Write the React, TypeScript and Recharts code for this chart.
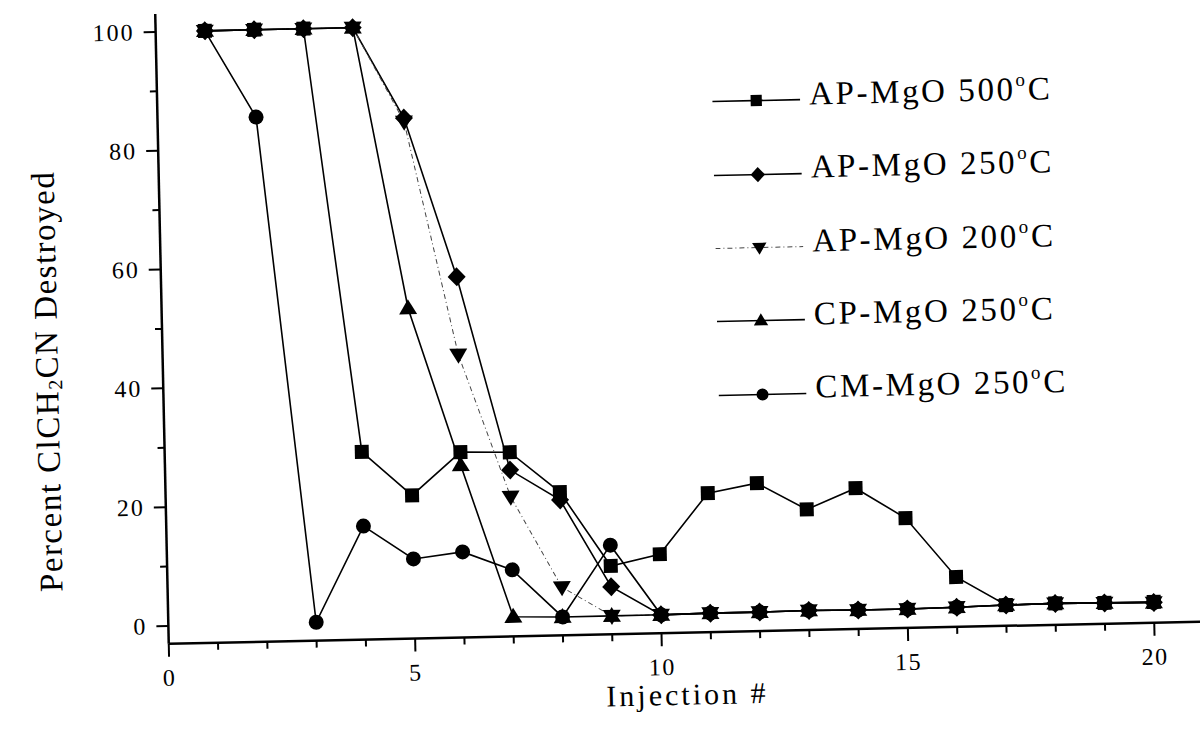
import React from "react";
import { LineChart, Line, XAxis, YAxis, Legend } from "recharts";

const injections = [1, 2, 3, 4, 5, 6, 7, 8, 9, 10, 11, 12, 13, 14, 15, 16, 17, 18, 19, 20];
const ap500 = [100, 100, 100, 28.6, 21.1, 28.2, 28.0, 21.1, 8.5, 10.3, 20.4, 21.9, 17.3, 20.7, 15.5, 5.4, 0.5, 0.6, 0.5, 0.5];
const ap250 = [100, 100, 100, 100, 84.6, 57.7, 25.0, 19.8, 5.0, 0.1, 0.2, 0.2, 0.3, 0.2, 0.2, 0.3, 0.5, 0.6, 0.5, 0.4];
const ap200 = [100, 100, 100, 100, 84.0, 44.6, 20.5, 5.1, 0.1, 0.1, 0.2, 0.2, 0.3, 0.2, 0.2, 0.3, 0.5, 0.6, 0.5, 0.4];
const cp250 = [100, 100, 100, 100, 52.6, 26.0, 0.3, 0.1, 0.1, 0.1, 0.2, 0.2, 0.3, 0.2, 0.2, 0.3, 0.5, 0.6, 0.5, 0.4];
const cm250 = [100, 85.3, 0.1, 16.1, 10.4, 11.4, 8.2, 0.1, 12.0, 0.1, 0.2, 0.2, 0.3, 0.2, 0.2, 0.3, 0.5, 0.6, 0.5, 0.4];

const xTicks = [0, 1, 2, 3, 4, 5, 6, 7, 8, 9, 10, 11, 12, 13, 14, 15, 16, 17, 18, 19, 20];
const yTicks = [0, 10, 20, 30, 40, 50, 60, 70, 80, 90, 100];

const series = [
  { key: "ap500", name: "AP-MgO 500", shape: "square", dash: undefined, color: "#000", width: 1.6 },
  { key: "ap250", name: "AP-MgO 250", shape: "diamond", dash: undefined, color: "#000", width: 1.6 },
  { key: "ap200", name: "AP-MgO 200", shape: "down", dash: "5 3 1 3", color: "#444", width: 1 },
  { key: "cp250", name: "CP-MgO 250", shape: "up", dash: undefined, color: "#000", width: 1.6 },
  { key: "cm250", name: "CM-MgO 250", shape: "circle", dash: undefined, color: "#000", width: 1.6 },
];

const rows = injections.map((x, i) => ({
  x,
  ap500: ap500[i],
  ap250: ap250[i],
  ap200: ap200[i],
  cp250: cp250[i],
  cm250: cm250[i],
}));

const FONT = "'Liberation Serif', 'Times New Roman', serif";

function Marker({ shape, cx, cy, s = 1 }: { shape: string; cx: number; cy: number; s?: number }) {
  if (shape === "square") return <rect x={cx - 7 * s} y={cy - 7 * s} width={14 * s} height={14 * s} fill="#000" />;
  if (shape === "diamond")
    return (
      <path
        d={`M${cx},${cy - 9.5 * s}L${cx + 9 * s},${cy}L${cx},${cy + 9.5 * s}L${cx - 9 * s},${cy}Z`}
        fill="#000"
      />
    );
  if (shape === "down")
    return <path d={`M${cx - 9 * s},${cy - 6 * s}L${cx + 9 * s},${cy - 6 * s}L${cx},${cy + 9 * s}Z`} fill="#000" />;
  if (shape === "up")
    return <path d={`M${cx - 9 * s},${cy + 6 * s}L${cx + 9 * s},${cy + 6 * s}L${cx},${cy - 9 * s}Z`} fill="#000" />;
  return <circle cx={cx} cy={cy} r={7.5 * s} fill="#000" />;
}

const makeDot = (shape: string, key: string) => (props: any) => {
  const { cx, cy, index } = props;
  if (cx == null || cy == null) return <g key={`${key}-${index}`} />;
  return (
    <g key={`${key}-${index}`}>
      <Marker shape={shape} cx={cx} cy={cy} />
    </g>
  );
};

const XTick = (props: any) => {
  const { x, y, payload } = props;
  const major = payload.value % 5 === 0;
  return (
    <g>
      <line x1={x} y1={y} x2={x} y2={y + (major ? 13 : 7)} stroke="#000" strokeWidth={2} />
      {major && (
        <text x={x} y={y + 42} textAnchor="middle" fontSize={24} fontFamily={FONT} fill="#000" letterSpacing={1.5}>
          {payload.value}
        </text>
      )}
    </g>
  );
};

const YTick = (props: any) => {
  const { x, y, payload } = props;
  const major = payload.value % 20 === 0;
  return (
    <g>
      <line x1={x} y1={y} x2={x - (major ? 12 : 7)} y2={y} stroke="#000" strokeWidth={2} />
      {major && (
        <text x={x - 21} y={y + 8} textAnchor="end" fontSize={24} fontFamily={FONT} fill="#000" letterSpacing={2}>
          {payload.value}
        </text>
      )}
    </g>
  );
};

const YLabel = (props: any) => {
  const vb = props.viewBox || { x: 0, y: 0, width: 163, height: 630 };
  const cx = vb.x + 47;
  const cy = vb.y + vb.height / 2 + 50;
  return (
    <text
      x={cx}
      y={cy}
      transform={`rotate(-90, ${cx}, ${cy})`}
      textAnchor="middle"
      dominantBaseline="central"
      fontSize={33}
      fontFamily={FONT}
      fill="#000"
      letterSpacing={1.5}
    >
      Percent ClCH
      <tspan fontSize={20} dy={8}>
        2
      </tspan>
      <tspan dy={-8}>CN Destroyed</tspan>
    </text>
  );
};

const LegendContent = () => (
  <div style={{ fontFamily: FONT, color: "#000" }}>
    {series.map((s) => (
      <div key={s.key} style={{ display: "flex", alignItems: "center", height: 73.3 }}>
        <svg width={88} height={30} style={{ flex: "none" }}>
          <line x1={0} y1={15} x2={88} y2={15} stroke={s.color} strokeWidth={s.width} strokeDasharray={s.dash} />
          <Marker shape={s.shape} cx={44} cy={15} s={0.8} />
        </svg>
        <span
          style={{
            marginLeft: 9,
            fontSize: 33,
            letterSpacing: 2.6,
            whiteSpace: "nowrap",
            position: "relative",
            top: -6,
          }}
        >
          {s.name}
          <span style={{ fontSize: 19, position: "relative", top: -14 }}>o</span>C
        </span>
      </div>
    ))}
  </div>
);

export default function App() {
  return (
    <div
      style={{
        position: "absolute",
        left: 0,
        top: 0,
        width: 1200,
        height: 742,
        overflow: "hidden",
        background: "#fff",
      }}
    >
      <div style={{ width: 1200, height: 742, transform: "rotate(-1.23deg)", transformOrigin: "600px 371px" }}>
        <LineChart width={1200} height={742} data={rows} margin={{ top: 4.6, right: 2, bottom: 7.5, left: 0 }}>
          <XAxis
            type="number"
            dataKey="x"
            domain={[0, 21]}
            ticks={xTicks}
            interval={0}
            height={100}
            tickLine={false}
            tickSize={0}
            tickMargin={0}
            tick={<XTick />}
            axisLine={{ stroke: "#000", strokeWidth: 2.5 }}
            label={{
              value: "Injection #",
              position: "insideBottom",
              offset: 28,
              fontSize: 30,
              fill: "#000",
              fontFamily: FONT,
              letterSpacing: 3,
            }}
          />
          <YAxis
            type="number"
            domain={[-3, 103]}
            ticks={yTicks}
            interval={0}
            width={163}
            tickLine={false}
            tickSize={0}
            tickMargin={0}
            tick={<YTick />}
            axisLine={{ stroke: "#000", strokeWidth: 2.5 }}
            label={(p: any) => <YLabel {...p} />}
          />
          <Legend
            layout="vertical"
            align="center"
            verticalAlign="middle"
            content={<LegendContent />}
            wrapperStyle={{ left: 718, top: 67.8, width: 470 }}
          />
          {series.map((s) => (
            <Line
              key={s.key}
              dataKey={s.key}
              name={s.name}
              stroke={s.color}
              strokeWidth={s.width}
              strokeDasharray={s.dash}
              dot={makeDot(s.shape, s.key)}
              activeDot={false}
              isAnimationActive={false}
            />
          ))}
        </LineChart>
      </div>
    </div>
  );
}
